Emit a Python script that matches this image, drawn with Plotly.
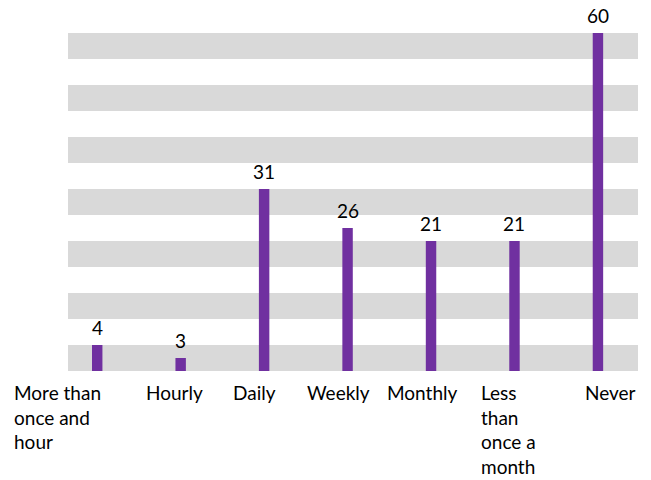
import plotly.graph_objects as go

categories = ['More than<br>once and<br>hour', 'Hourly', 'Daily', 'Weekly',
              'Monthly', 'Less<br>than<br>once a<br>month', 'Never']
# bar heights as drawn (axis units) and the labels printed above them
heights = [2, 1, 14, 11, 10, 10, 26]
labels = ['4', '3', '31', '26', '21', '21', '60']

FONT = 'Lato'
PURPLE = '#7030A0'
GREY = '#D9D9D9'
# small nudges so the category labels sit where the original put them
LABEL_SHIFT = [-40, -6, -10, -9, -9, -6, 13]

fig = go.Figure()
fig.add_trace(go.Bar(
    x=list(range(len(categories))),
    y=heights,
    marker=dict(color=PURPLE, line=dict(width=0)),
    width=0.125,
    hoverinfo='skip',
))

# grey horizontal bands every other step of 2
for y0 in range(0, 26, 4):
    fig.add_shape(type='rect', xref='paper', yref='y', x0=0, x1=1,
                  y0=y0, y1=y0 + 2, fillcolor=GREY, line=dict(width=0),
                  layer='below')

# value labels above the bars
for i, (h, lab) in enumerate(zip(heights, labels)):
    fig.add_annotation(
        x=i, y=h, xref='x', yref='y', text=lab, showarrow=False,
        xanchor='center', yanchor='bottom', yshift=4,
        font=dict(family=FONT, size=19, color='black'),
    )

# category labels, left aligned like the original
for i, cat in enumerate(categories):
    fig.add_annotation(
        x=i, y=0, xref='x', yref='paper', text=cat, showarrow=False,
        xanchor='center', yanchor='top', align='left', yshift=-8,
        xshift=LABEL_SHIFT[i],
        font=dict(family=FONT, size=19, color='black'),
    )

fig.update_layout(
    width=651, height=480,
    margin=dict(l=68, r=13, t=33, b=109),
    plot_bgcolor='white', paper_bgcolor='white',
    showlegend=False,
    xaxis=dict(range=[-0.35, 6.48], showticklabels=False, showgrid=False,
               zeroline=False, showline=False, ticks=''),
    yaxis=dict(range=[0, 26], visible=False, showgrid=False, zeroline=False),
)

fig.write_html('out.html', config={'displayModeBar': False},
               post_script="document.body.style.margin='0';")
